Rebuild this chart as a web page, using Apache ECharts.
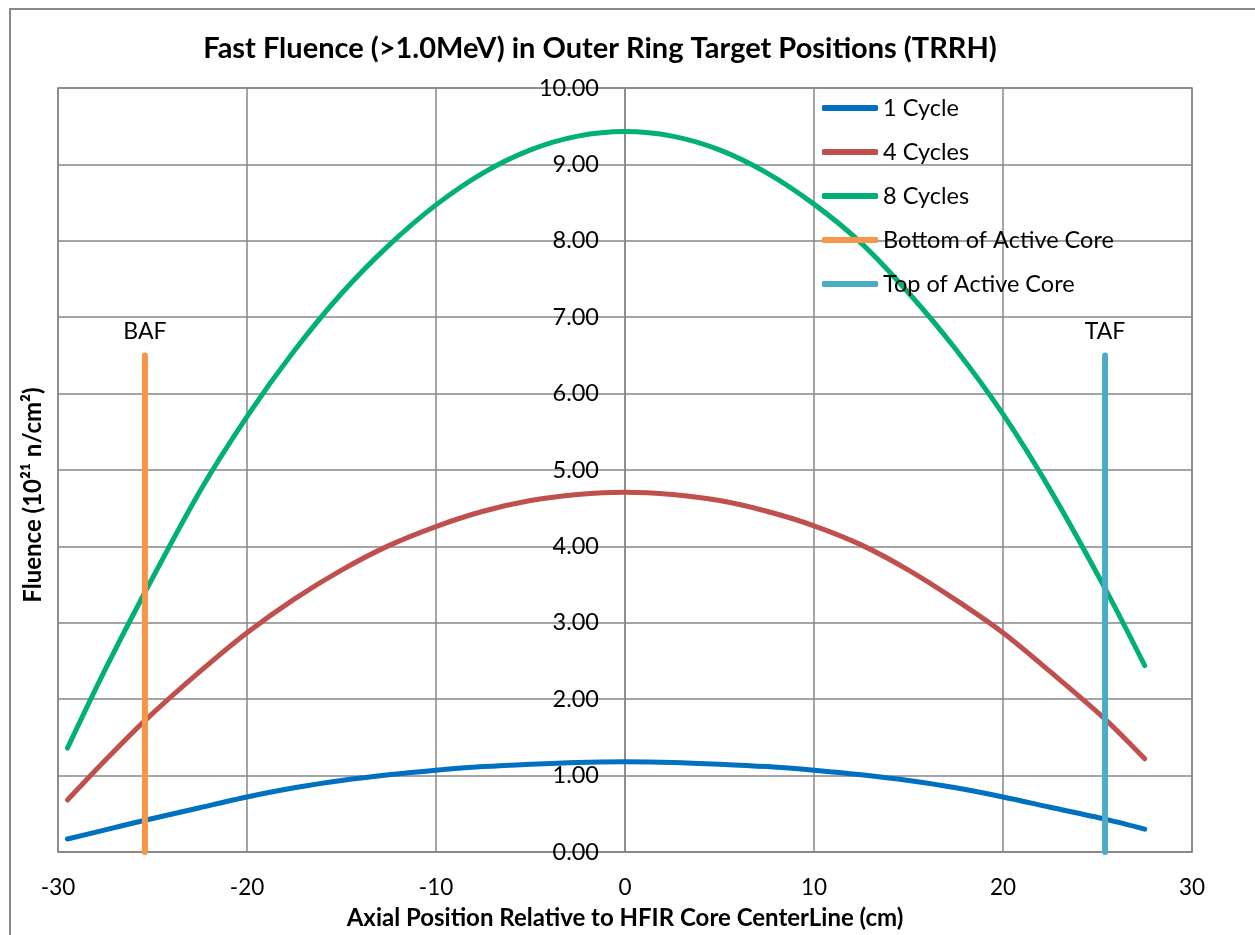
<!DOCTYPE html>
<html>
<head>
<meta charset="utf-8">
<script src="https://cdn.jsdelivr.net/npm/echarts@6/dist/echarts.min.js"></script>
<style>
  html, body { margin: 0; padding: 0; background: #fff; }
  #chart { width: 1255px; height: 935px; }
</style>
</head>
<body>
<div id="chart"></div>
<script>
// Axial positions (cm, relative to core centerline)
const xPos = [-29.5, -27.5, -25.4, -22.5, -20, -17.5, -15, -12.5, -10, -7.5, -5, -2.5, 0,
              2.5, 5, 7.5, 10, 12.5, 15, 17.5, 20, 22.5, 25.4, 27.5];

// Fast fluence (10^21 n/cm^2)
const cycle1 = [0.17, 0.29, 0.415, 0.58, 0.72, 0.84, 0.935, 1.01, 1.07, 1.118, 1.15, 1.173, 1.18,
                1.173, 1.15, 1.118, 1.07, 1.01, 0.935, 0.84, 0.72, 0.585, 0.43, 0.30];
const cycle4 = [0.68, 1.20, 1.72, 2.36, 2.87, 3.31, 3.69, 4.01, 4.26, 4.46, 4.60, 4.68, 4.71,
                4.68, 4.60, 4.46, 4.27, 4.02, 3.69, 3.30, 2.87, 2.36, 1.74, 1.22];
const cycle8 = [1.36, 2.39, 3.40, 4.72, 5.70, 6.56, 7.31, 7.94, 8.47, 8.89, 9.19, 9.37, 9.43,
                9.37, 9.19, 8.89, 8.48, 7.97, 7.32, 6.58, 5.73, 4.74, 3.45, 2.44];

// Active core boundaries
const bottomOfCore = -25.4;
const topOfCore = 25.4;
const coreMarkerHeight = 6.5;

const xTicks = { min: -30, max: 30, interval: 10 };
const yTicks = { min: 0, max: 10, interval: 1 };

const FONT = 'Lato, "Open Sans", sans-serif';
const GRID_COLOR = '#878787';
const GRID_BOX = { left: 58, right: 63, top: 88, bottom: 83 };
const CHART_W = 1255;

function pairs(xs, ys) { return xs.map((x, i) => [x, ys[i]]); }

function curve(name, color, values) {
  return {
    name, type: 'line', data: pairs(xPos, values),
    smooth: 0.3, symbol: 'none', z: 3,
    lineStyle: { color, width: 5, cap: 'round' },
    itemStyle: { color }
  };
}

// Vertical core-boundary marker with its tag above the top end
function coreLine(name, color, x, text) {
  return {
    name, type: 'line', z: 4, symbol: 'none',
    data: [[x, 0], [x, coreMarkerHeight]],
    lineStyle: { color, width: 6, cap: 'round' },
    itemStyle: { color },
    markPoint: {
      silent: true,
      symbol: 'circle', symbolSize: 1,
      itemStyle: { color: 'rgba(0,0,0,0)' },
      label: { show: true, position: 'top', distance: 12, formatter: text,
               fontFamily: FONT, fontSize: 23, color: '#000' },
      data: [{ coord: [x, coreMarkerHeight] }]
    }
  };
}

// Vertical axis sits on x = 0, in the middle of the plot
const plotWidth = CHART_W - GRID_BOX.left - GRID_BOX.right;
const yAxisShift = -plotWidth * (0 - xTicks.min) / (xTicks.max - xTicks.min);

const chart = echarts.init(document.getElementById('chart'), null, { renderer: 'canvas' });

chart.setOption({
  backgroundColor: '#fff',
  animation: false,
  textStyle: { fontFamily: FONT },
  title: {
    text: 'Fast Fluence (>1.0MeV) in Outer Ring Target Positions (TRRH)',
    left: 595, top: 29, textAlign: 'center',
    textStyle: { fontFamily: FONT, fontWeight: 'bold', fontSize: 29, color: '#000' }
  },
  grid: Object.assign({}, GRID_BOX, {
    outerBoundsMode: 'none',
    show: true, borderColor: GRID_COLOR, borderWidth: 1.5, backgroundColor: 'transparent'
  }),
  legend: {
    left: 822, top: 96, orient: 'vertical', padding: 0,
    icon: 'roundRect',
    itemWidth: 56, itemHeight: 6, itemGap: 20,
    textStyle: { fontFamily: FONT, fontSize: 23.5, color: '#000' },
    data: ['1 Cycle', '4 Cycles', '8 Cycles', 'Bottom of Active Core', 'Top of Active Core']
  },
  xAxis: {
    type: 'value', min: xTicks.min, max: xTicks.max, interval: xTicks.interval,
    axisLine: { show: true, onZero: false, lineStyle: { color: GRID_COLOR, width: 1.5 } },
    axisTick: { show: false },
    axisLabel: { fontFamily: FONT, fontSize: 22.5, color: '#000', margin: 24 },
    splitLine: { show: true, lineStyle: { color: GRID_COLOR, width: 1.5 } }
  },
  yAxis: {
    type: 'value', min: yTicks.min, max: yTicks.max, interval: yTicks.interval,
    position: 'left', offset: yAxisShift,
    axisLine: { show: true, onZero: false, lineStyle: { color: GRID_COLOR, width: 1.5 } },
    axisTick: { show: false },
    axisLabel: { fontFamily: FONT, fontSize: 23.5, color: '#000', margin: 26,
                 formatter: v => v.toFixed(2) },
    splitLine: { show: true, lineStyle: { color: GRID_COLOR, width: 1.5 } }
  },
  graphic: [
    { type: 'rect', silent: true, z: -10,
      shape: { x: 10, y: 9, width: 1270, height: 960 },
      style: { fill: 'none', stroke: '#8a8a8a', lineWidth: 2 } },
    { type: 'text', x: 625, y: 918, silent: true,
      style: { text: 'Axial Position Relative to HFIR Core CenterLine (cm)',
               align: 'center', verticalAlign: 'middle',
               fontFamily: FONT, fontWeight: 'bold', fontSize: 24, fill: '#000' } },
    { type: 'text', x: 33, y: 495, rotation: Math.PI / 2, silent: true,
      style: { text: 'Fluence (10²¹ n/cm²)', align: 'center', verticalAlign: 'middle',
               fontFamily: FONT, fontWeight: 'bold', fontSize: 24, fill: '#000' } }
  ],
  series: [
    curve('1 Cycle', '#0070C0', cycle1),
    curve('4 Cycles', '#C0504D', cycle4),
    curve('8 Cycles', '#00B074', cycle8),
    coreLine('Bottom of Active Core', '#F79646', bottomOfCore, 'BAF'),
    coreLine('Top of Active Core', '#4BACC6', topOfCore, 'TAF')
  ]
});
</script>
</body>
</html>
